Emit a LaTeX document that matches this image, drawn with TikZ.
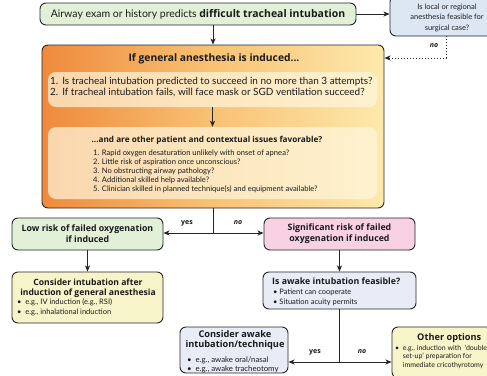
\documentclass[tikz,border=0pt]{standalone}
\usepackage{fontspec}
\setmainfont{Lato}
\newfontfamily\osfam{Open Sans}
\usetikzlibrary{arrows.meta}
\newcommand\fsz[2]{\fontsize{#1}{#2}\selectfont}
\newcommand\hb{\osfam\bfseries}
\definecolor{bord}{HTML}{262626}
\definecolor{gfill}{HTML}{E2F0D8}
\definecolor{bfill}{HTML}{E8ECF7}
\definecolor{lbfill}{HTML}{DDE7F3}
\definecolor{pfill}{HTML}{F8D2E2}
\definecolor{yfill}{HTML}{F8F4CA}
\definecolor{oA}{HTML}{EF8A3C}
\definecolor{oM}{HTML}{F8C274}
\definecolor{oB}{HTML}{FDE9AC}
\definecolor{cream}{HTML}{FFF7DF}
\definecolor{txt}{HTML}{1A1A1A}
\tikzset{
  box/.style={draw=bord, line width=0.9pt, rounded corners=6pt, inner sep=0pt},
  inbox/.style={fill=cream, fill opacity=0.7, rounded corners=8pt, inner sep=0pt},
  arr/.style={-{Stealth[length=6pt,width=5pt,inset=1.5pt]}, line width=1pt, draw=bord},
  dotarr/.style={-{Stealth[length=6pt,width=5pt,inset=1.5pt]}, line width=1pt, draw=bord, dash pattern=on 1pt off 2pt},
  plain/.style={line width=1pt, draw=bord},
  lbl/.style={font=\fsz{7}{8}\hb, text=txt, inner sep=0pt},
  tx/.style={text=txt, inner sep=0pt}
}
\begin{document}
\begin{tikzpicture}[x=1pt,y=-1pt]
\useasboundingbox (0,0) rectangle (487,375);
\fill[white] (0,0) rectangle (487,375);

% top box
\node[box, fill=gfill, minimum width=316, minimum height=22, font=\fsz{10.5}{11}, text=txt] (top) at (198,14)
  {Airway exam or history predicts {\hb\fsz{10.5}{11}difficult tracheal intubation}};

% local / regional
\node[box, fill=lbfill, minimum width=116, minimum height=40] (local) at (448,16) {};
\node[tx, align=center, font=\fsz{7.5}{10.5}] (localt) at (447,17.5)
  {Is local or regional\\anesthesia feasible for\\surgical case?};

% orange box
\node[box, left color=oA, right color=oB, middle color=oM, minimum width=342, minimum height=163] (orange) at (213,126.5) {};
\node[tx, font=\fsz{10.3}{12}\hb] (otitle) at (214,59) {If general anesthesia is induced...};

\node[inbox, minimum width=329, minimum height=35] (in1) at (212.5,89.5) {};
\node[tx, anchor=west, font=\fsz{9.95}{11}] (in1t) at (50,88)
  {\begin{tabular}{@{}l@{\hspace{4pt}}l@{}}1. & Is tracheal intubation predicted to succeed in no more than 3 attempts?\\
   2. & If tracheal intubation fails, will face mask or SGD ventilation succeed?\end{tabular}};

\node[inbox, minimum width=329, minimum height=72] (in2) at (212.5,163) {};
\node[tx, font=\fsz{8.2}{10}\hb] (in2title) at (207,140) {...and are other patient and contextual issues favorable?};
\node[tx, anchor=west, align=left, font=\fsz{7.6}{9}] (in2t) at (93,171)
  {1. Rapid oxygen desaturation unlikely with onset of apnea?\\
   2. Little risk of aspiration once unconscious?\\
   3. No obstructing airway pathology?\\
   4. Additional skilled help available?\\
   5. Clinician skilled in planned technique(s) and equipment available?};

% second row
\node[box, fill=gfill, minimum width=151, minimum height=32, align=center, font=\fsz{8.8}{11}\hb, text=txt] (low) at (87.5,234)
  {Low risk of failed oxygenation\\if induced};
\node[box, fill=pfill, minimum width=151, minimum height=32, align=center, font=\fsz{8.8}{11}\hb, text=txt] (sig) at (339.5,234)
  {Significant risk of failed\\oxygenation if induced};

% third row
\node[box, fill=yfill, minimum width=151, minimum height=51] (cint) at (87.5,297.5) {};
\node[tx, align=center, font=\fsz{8.6}{10}\hb] (cintt) at (88,288)
  {Consider intubation after\\induction of general anesthesia};
\node[tx, anchor=west, align=left, font=\fsz{7.5}{9.5}] (cintb) at (17,307.5)
  {\textbullet\ \ e.g., IV induction (e.g., RSI)\\\textbullet\ \ e.g., inhalational induction};

\node[box, fill=bfill, minimum width=153, minimum height=37] (awk) at (339.5,290.5) {};
\node[tx, anchor=west, font=\fsz{8.8}{10}\hb] (awkt) at (272,281) {Is awake intubation feasible?};
\node[tx, anchor=west, align=left, font=\fsz{7.5}{10}] (awkb) at (273,297)
  {\textbullet\ Patient can cooperate\\\textbullet\ Situation acuity permits};

% fourth row
\node[box, fill=bfill, minimum width=108, minimum height=46] (cawk) at (234,350) {};
\node[tx, align=center, font=\fsz{9.2}{10}\hb] (cawkt) at (235,340)
  {Consider awake\\intubation/technique};
\node[tx, anchor=west, align=left, font=\fsz{7.8}{9}] (cawkb) at (187,364.5)
  {\textbullet\ \ e.g., awake oral/nasal\\\textbullet\ \ e.g., awake tracheotomy};

\node[box, fill=yfill, minimum width=120, minimum height=51] (oth) at (452,352.5) {};
\node[tx, anchor=west, font=\fsz{9.2}{10}\hb] (otht) at (417,338) {Other options};
\node[tx, anchor=west, align=left, font=\fsz{7}{8.5}] (othb) at (395,356.5)
  {\textbullet\ \ e.g., induction with \ ‘double\\
   \phantom{\textbullet\ \ }set-up’ preparation for\\
   \phantom{\textbullet\ \ }immediate cricothyrotomy};

% connectors
\draw[arr] (top.east) -- (local.west |- top.east);
\draw[arr] (orange.north |- top.south) -- (orange.north);
\coordinate (dotc) at (446,58);
\draw[dotarr] (local.south -| dotc) -- (dotc) -- (orange.east |- dotc);
\node[lbl, font=\fsz{7}{8}\hb\itshape] (nolocal) at (434,46) {no};

\draw[arr] (in1.south) -- (in2.north);

\coordinate (split1) at (213,233);
\draw[plain] (orange.south) -- (split1);
\draw[arr] (split1) -- (low.east |- split1);
\draw[arr] (split1) -- (sig.west |- split1);
\node[lbl] (yes1) at (187,223) {yes};
\node[lbl, font=\fsz{7}{8}\hb\itshape] (no1) at (238,223) {no};

\draw[arr] (low.south) -- (cint.north);
\draw[arr] (sig.south) -- (awk.north);

\coordinate (split2) at (339.5,362);
\draw[plain] (awk.south) -- (split2);
\draw[arr] (split2) -- (cawk.east |- split2);
\draw[arr] (split2) -- (oth.west |- split2);
\node[lbl] (yes2) at (315,352) {yes};
\node[lbl, font=\fsz{7}{8}\hb\itshape] (no2) at (362,352) {no};
\end{tikzpicture}
\end{document}
